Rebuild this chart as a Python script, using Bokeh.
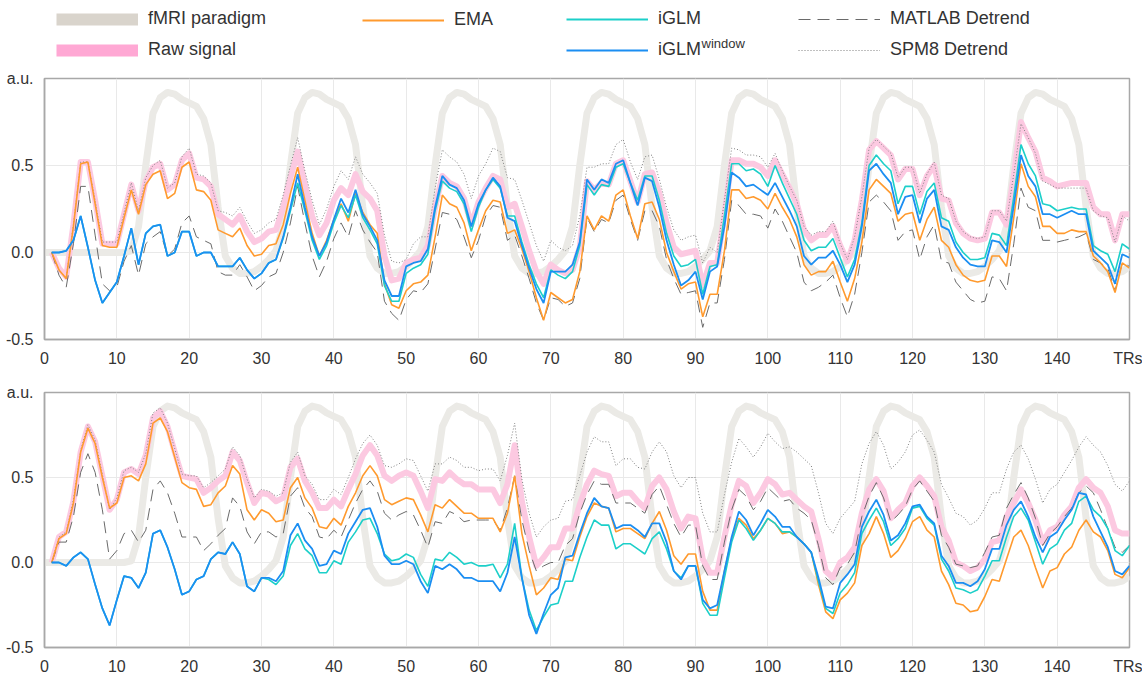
# -*- coding: utf-8 -*-

# Modules
from bokeh.plotting import figure
from bokeh.layouts import column
from bokeh.models import Range1d, FixedTicker, Legend, LegendItem, Label
from bokeh.embed import file_html
from bokeh.resources import INLINE


# Data (a.u. per TR)
trs = list(range(1, 151))
trs_paradigm = list(range(0, 151))

paradigm = [
    0.00, 0.00, 0.00, 0.00, 0.00, 0.00, 0.00, 0.00, 0.00, 0.00, 0.00, 0.00,
    0.01, 0.15, 0.50, 0.80, 0.89, 0.92, 0.91, 0.88, 0.86, 0.84,
    0.77, 0.62, 0.26, -0.02, -0.09, -0.12, -0.12, -0.11, -0.08, -0.04,
    0.01, 0.15, 0.50, 0.80, 0.89, 0.92, 0.91, 0.88, 0.86, 0.84,
    0.77, 0.62, 0.26, -0.02, -0.09, -0.12, -0.12, -0.11, -0.08, -0.04,
    0.01, 0.15, 0.50, 0.80, 0.89, 0.92, 0.91, 0.88, 0.86, 0.84,
    0.77, 0.62, 0.26, -0.02, -0.09, -0.12, -0.12, -0.11, -0.08, -0.04,
    0.01, 0.15, 0.50, 0.80, 0.89, 0.92, 0.91, 0.88, 0.86, 0.84,
    0.77, 0.62, 0.26, -0.02, -0.09, -0.12, -0.12, -0.11, -0.08, -0.04,
    0.01, 0.15, 0.50, 0.80, 0.89, 0.92, 0.91, 0.88, 0.86, 0.84,
    0.77, 0.62, 0.26, -0.02, -0.09, -0.12, -0.12, -0.11, -0.08, -0.04,
    0.01, 0.15, 0.50, 0.80, 0.89, 0.92, 0.91, 0.88, 0.86, 0.84,
    0.77, 0.62, 0.26, -0.02, -0.09, -0.12, -0.12, -0.11, -0.08, -0.04,
    0.01, 0.15, 0.50, 0.80, 0.89, 0.92, 0.91, 0.88, 0.86, 0.84,
    0.77, 0.62, 0.26, -0.02, -0.09, -0.12, -0.12, -0.11, -0.08,
]

# upper panel
top_raw = [
    0.00, -0.09, -0.14, 0.16, 0.52, 0.52, 0.30, 0.05, 0.05, 0.05,
    0.22, 0.39, 0.24, 0.41, 0.49, 0.51, 0.36, 0.39, 0.53, 0.57,
    0.43, 0.42, 0.38, 0.22, 0.19, 0.16, 0.21, 0.12, 0.06, 0.08,
    0.12, 0.13, 0.26, 0.43, 0.58, 0.39, 0.21, 0.10, 0.17, 0.30,
    0.37, 0.33, 0.45, 0.35, 0.31, 0.24, -0.02, -0.16, -0.15, -0.06,
    -0.04, -0.03, 0.04, 0.26, 0.44, 0.40, 0.38, 0.31, 0.16, 0.29,
    0.37, 0.44, 0.42, 0.26, 0.28, 0.15, 0.01, -0.11, -0.18, -0.07,
    -0.10, -0.12, -0.10, 0.03, 0.41, 0.36, 0.40, 0.39, 0.51, 0.53,
    0.41, 0.29, 0.45, 0.46, 0.34, 0.17, 0.03, -0.01, 0.00, 0.01,
    -0.19, -0.06, -0.06, 0.22, 0.53, 0.53, 0.51, 0.51, 0.49, 0.44,
    0.53, 0.45, 0.37, 0.28, 0.13, 0.07, 0.10, 0.10, 0.15, 0.04,
    -0.05, 0.07, 0.30, 0.59, 0.64, 0.60, 0.56, 0.42, 0.48, 0.48,
    0.33, 0.44, 0.50, 0.31, 0.30, 0.17, 0.11, 0.08, 0.07, 0.08,
    0.23, 0.23, 0.16, 0.44, 0.75, 0.66, 0.58, 0.43, 0.41, 0.38,
    0.39, 0.40, 0.40, 0.40, 0.26, 0.22, 0.22, 0.07, 0.22, 0.22,
]
top_ema = [
    0.00, -0.10, -0.15, 0.15, 0.51, 0.52, 0.28, 0.04, 0.03, 0.03,
    0.20, 0.36, 0.22, 0.39, 0.45, 0.47, 0.31, 0.34, 0.49, 0.52,
    0.36, 0.35, 0.30, 0.13, 0.11, 0.09, 0.14, 0.04, -0.02, -0.01,
    0.04, 0.05, 0.16, 0.34, 0.49, 0.30, 0.11, -0.02, 0.07, 0.19,
    0.28, 0.18, 0.34, 0.23, 0.16, 0.11, -0.18, -0.30, -0.32, -0.22,
    -0.18, -0.17, -0.13, 0.09, 0.33, 0.28, 0.26, 0.17, 0.01, 0.13,
    0.24, 0.30, 0.29, 0.11, 0.13, 0.02, -0.11, -0.26, -0.39, -0.23,
    -0.26, -0.29, -0.27, -0.11, 0.21, 0.13, 0.21, 0.18, 0.33, 0.36,
    0.21, 0.08, 0.28, 0.29, 0.19, 0.00, -0.11, -0.21, -0.18, -0.17,
    -0.37, -0.24, -0.24, 0.01, 0.36, 0.36, 0.31, 0.32, 0.30, 0.25,
    0.34, 0.26, 0.19, 0.09, -0.07, -0.13, -0.11, -0.11, -0.05, -0.17,
    -0.28, -0.15, 0.06, 0.36, 0.42, 0.38, 0.34, 0.18, 0.22, 0.23,
    0.07, 0.19, 0.26, 0.07, 0.03, -0.07, -0.13, -0.16, -0.17, -0.16,
    -0.02, -0.02, -0.08, 0.20, 0.51, 0.38, 0.32, 0.15, 0.15, 0.11,
    0.11, 0.13, 0.12, 0.12, -0.02, -0.06, -0.11, -0.23, -0.06, -0.09,
]
top_iglm = [
    0.00, 0.00, 0.01, 0.07, 0.21, 0.03, -0.16, -0.29, -0.23, -0.17,
    -0.02, 0.14, -0.07, 0.11, 0.15, 0.16, -0.02, 0.00, 0.12, 0.12,
    -0.02, 0.00, 0.00, -0.08, -0.08, -0.08, -0.03, -0.10, -0.15, -0.12,
    -0.06, -0.04, 0.08, 0.24, 0.40, 0.24, 0.07, -0.04, 0.04, 0.17,
    0.27, 0.20, 0.33, 0.20, 0.13, 0.05, -0.19, -0.28, -0.28, -0.12,
    -0.09, -0.07, -0.01, 0.24, 0.41, 0.37, 0.35, 0.28, 0.12, 0.26,
    0.36, 0.42, 0.37, 0.21, 0.21, 0.06, -0.07, -0.18, -0.26, -0.10,
    -0.13, -0.15, -0.11, 0.04, 0.39, 0.33, 0.39, 0.38, 0.49, 0.51,
    0.40, 0.30, 0.44, 0.44, 0.30, 0.11, -0.02, -0.08, -0.07, -0.04,
    -0.24, -0.08, -0.07, 0.21, 0.51, 0.51, 0.47, 0.48, 0.45, 0.38,
    0.50, 0.40, 0.31, 0.22, 0.07, 0.01, 0.03, 0.03, 0.08, -0.03,
    -0.14, -0.04, 0.17, 0.50, 0.56, 0.51, 0.47, 0.28, 0.38, 0.38,
    0.22, 0.35, 0.40, 0.20, 0.18, 0.06, 0.00, -0.04, -0.04, -0.03,
    0.11, 0.10, 0.04, 0.32, 0.62, 0.51, 0.44, 0.28, 0.27, 0.24,
    0.25, 0.26, 0.25, 0.25, 0.04, 0.01, -0.01, -0.11, 0.05, 0.02,
]
top_iglm_window = [
    0.00, 0.00, 0.01, 0.07, 0.21, 0.03, -0.16, -0.29, -0.23, -0.17,
    -0.02, 0.14, -0.07, 0.11, 0.15, 0.16, -0.02, 0.00, 0.12, 0.12,
    -0.02, 0.00, 0.00, -0.08, -0.08, -0.08, -0.03, -0.10, -0.15, -0.12,
    -0.06, -0.04, 0.09, 0.26, 0.45, 0.26, 0.09, -0.02, 0.06, 0.19,
    0.31, 0.23, 0.36, 0.22, 0.15, 0.07, -0.16, -0.25, -0.25, -0.08,
    -0.06, -0.05, 0.02, 0.26, 0.44, 0.39, 0.37, 0.30, 0.15, 0.28,
    0.36, 0.43, 0.38, 0.20, 0.18, 0.04, -0.09, -0.21, -0.29, -0.11,
    -0.11, -0.11, -0.07, 0.06, 0.42, 0.36, 0.42, 0.40, 0.51, 0.53,
    0.40, 0.27, 0.43, 0.41, 0.26, 0.07, -0.07, -0.19, -0.16, -0.11,
    -0.27, -0.11, -0.08, 0.15, 0.46, 0.43, 0.38, 0.39, 0.36, 0.33,
    0.40, 0.32, 0.24, 0.15, -0.02, -0.07, -0.03, -0.03, 0.01, -0.07,
    -0.17, -0.07, 0.15, 0.47, 0.51, 0.45, 0.40, 0.22, 0.32, 0.33,
    0.17, 0.31, 0.36, 0.15, 0.13, 0.03, -0.03, -0.07, -0.08, -0.08,
    0.07, 0.06, 0.00, 0.27, 0.56, 0.44, 0.38, 0.22, 0.22, 0.20,
    0.22, 0.24, 0.22, 0.22, 0.01, -0.03, -0.07, -0.18, -0.01, -0.03,
]
top_matlab = [
    0.00, -0.13, -0.20, 0.05, 0.38, 0.38, 0.10, -0.18, -0.22, -0.20,
    -0.05, 0.04, -0.13, 0.05, 0.09, 0.12, -0.02, 0.02, 0.17, 0.21,
    0.09, 0.07, 0.05, -0.11, -0.13, -0.13, -0.07, -0.14, -0.22, -0.19,
    -0.14, -0.12, 0.00, 0.17, 0.38, 0.17, -0.02, -0.14, -0.05, 0.08,
    0.17, 0.09, 0.24, 0.13, 0.06, 0.00, -0.28, -0.35, -0.39, -0.27,
    -0.22, -0.23, -0.18, 0.02, 0.23, 0.22, 0.19, 0.09, -0.03, 0.07,
    0.21, 0.27, 0.26, 0.07, 0.10, -0.02, -0.15, -0.29, -0.39, -0.26,
    -0.27, -0.31, -0.29, -0.15, 0.20, 0.12, 0.19, 0.17, 0.30, 0.33,
    0.19, 0.07, 0.24, 0.24, 0.15, -0.04, -0.15, -0.24, -0.23, -0.22,
    -0.43, -0.29, -0.29, -0.04, 0.30, 0.27, 0.22, 0.22, 0.21, 0.14,
    0.25, 0.18, 0.09, 0.00, -0.17, -0.22, -0.20, -0.17, -0.13, -0.26,
    -0.37, -0.24, 0.00, 0.29, 0.33, 0.29, 0.24, 0.07, 0.12, 0.13,
    -0.04, 0.09, 0.16, -0.05, -0.06, -0.17, -0.22, -0.27, -0.29, -0.28,
    -0.14, -0.15, -0.22, 0.05, 0.37, 0.26, 0.24, 0.07, 0.07, 0.06,
    0.07, 0.08, 0.09, 0.11, -0.04, -0.06, -0.09, -0.22, -0.06, -0.08,
]
top_spm8 = [
    0.00, -0.10, -0.15, 0.16, 0.52, 0.52, 0.30, 0.06, 0.06, 0.06,
    0.23, 0.40, 0.24, 0.43, 0.50, 0.53, 0.37, 0.40, 0.55, 0.60,
    0.45, 0.44, 0.40, 0.24, 0.23, 0.21, 0.26, 0.18, 0.11, 0.13,
    0.17, 0.19, 0.33, 0.50, 0.66, 0.47, 0.30, 0.16, 0.25, 0.38,
    0.47, 0.42, 0.55, 0.45, 0.40, 0.34, 0.10, -0.05, -0.06, -0.04,
    0.05, 0.09, 0.09, 0.37, 0.59, 0.55, 0.52, 0.45, 0.31, 0.44,
    0.51, 0.60, 0.58, 0.43, 0.42, 0.30, 0.17, 0.04, -0.05, 0.07,
    0.03, 0.01, 0.04, 0.21, 0.49, 0.49, 0.51, 0.51, 0.62, 0.65,
    0.52, 0.42, 0.55, 0.56, 0.42, 0.26, 0.13, 0.07, 0.09, 0.10,
    -0.06, 0.03, 0.00, 0.30, 0.60, 0.59, 0.56, 0.56, 0.55, 0.49,
    0.57, 0.47, 0.38, 0.30, 0.15, 0.10, 0.12, 0.12, 0.18, 0.05,
    -0.04, 0.09, 0.32, 0.60, 0.65, 0.61, 0.57, 0.43, 0.49, 0.49,
    0.34, 0.45, 0.52, 0.33, 0.31, 0.18, 0.12, 0.09, 0.08, 0.09,
    0.24, 0.24, 0.18, 0.45, 0.74, 0.66, 0.57, 0.41, 0.39, 0.37,
    0.37, 0.37, 0.37, 0.37, 0.24, 0.21, 0.20, 0.06, 0.21, 0.18,
]

# lower panel
bot_raw = [
    0.00, 0.15, 0.18, 0.36, 0.65, 0.80, 0.71, 0.51, 0.31, 0.37,
    0.53, 0.55, 0.52, 0.63, 0.85, 0.89, 0.80, 0.65, 0.51, 0.50,
    0.49, 0.41, 0.44, 0.48, 0.51, 0.65, 0.60, 0.47, 0.35, 0.41,
    0.40, 0.36, 0.38, 0.56, 0.61, 0.48, 0.41, 0.32, 0.32, 0.37,
    0.33, 0.43, 0.52, 0.63, 0.69, 0.63, 0.51, 0.48, 0.51, 0.53,
    0.51, 0.42, 0.32, 0.49, 0.48, 0.53, 0.49, 0.46, 0.46, 0.43,
    0.43, 0.43, 0.35, 0.46, 0.69, 0.36, 0.15, -0.02, 0.03, 0.09,
    0.09, 0.20, 0.20, 0.34, 0.46, 0.54, 0.52, 0.51, 0.39, 0.41,
    0.41, 0.36, 0.32, 0.45, 0.50, 0.43, 0.30, 0.20, 0.27, 0.26,
    0.02, -0.06, -0.06, 0.15, 0.34, 0.48, 0.45, 0.35, 0.41, 0.49,
    0.46, 0.40, 0.41, 0.37, 0.33, 0.30, 0.14, -0.05, -0.09, 0.00,
    0.03, 0.09, 0.29, 0.43, 0.49, 0.42, 0.26, 0.31, 0.35, 0.45,
    0.50, 0.45, 0.39, 0.21, 0.13, 0.00, -0.02, -0.05, -0.03, 0.02,
    0.12, 0.13, 0.27, 0.35, 0.43, 0.35, 0.25, 0.12, 0.19, 0.21,
    0.28, 0.33, 0.44, 0.49, 0.44, 0.41, 0.33, 0.19, 0.17, 0.17,
]
bot_ema = [
    0.00, 0.14, 0.17, 0.35, 0.65, 0.79, 0.70, 0.50, 0.32, 0.35,
    0.50, 0.51, 0.48, 0.58, 0.82, 0.85, 0.77, 0.62, 0.47, 0.44,
    0.43, 0.33, 0.34, 0.41, 0.45, 0.57, 0.52, 0.31, 0.25, 0.31,
    0.29, 0.24, 0.25, 0.44, 0.50, 0.38, 0.32, 0.21, 0.20, 0.26,
    0.22, 0.33, 0.41, 0.51, 0.57, 0.51, 0.37, 0.34, 0.36, 0.38,
    0.37, 0.28, 0.18, 0.34, 0.32, 0.37, 0.33, 0.29, 0.29, 0.26,
    0.26, 0.26, 0.18, 0.29, 0.51, 0.17, -0.02, -0.19, -0.15, -0.09,
    -0.10, 0.02, 0.01, 0.15, 0.27, 0.35, 0.33, 0.32, 0.18, 0.20,
    0.20, 0.17, 0.14, 0.23, 0.30, 0.19, 0.04, -0.01, 0.05, 0.05,
    -0.17, -0.28, -0.28, -0.05, 0.14, 0.26, 0.22, 0.14, 0.19, 0.26,
    0.23, 0.17, 0.18, 0.15, 0.11, 0.06, -0.13, -0.29, -0.33, -0.22,
    -0.18, -0.12, 0.10, 0.17, 0.27, 0.17, 0.03, 0.07, 0.14, 0.24,
    0.27, 0.19, 0.15, -0.05, -0.13, -0.24, -0.25, -0.29, -0.28, -0.20,
    -0.10, -0.11, 0.02, 0.15, 0.19, 0.10, -0.03, -0.15, -0.05, -0.03,
    0.05, 0.09, 0.19, 0.25, 0.18, 0.15, 0.07, -0.07, -0.09, -0.03,
]
bot_iglm = [
    0.00, 0.00, -0.02, 0.03, 0.06, 0.02, -0.13, -0.27, -0.37, -0.22,
    -0.08, -0.09, -0.15, -0.06, 0.17, 0.19, 0.09, -0.04, -0.19, -0.17,
    -0.10, -0.08, 0.02, 0.06, 0.05, 0.12, 0.05, -0.14, -0.17, -0.09,
    -0.10, -0.13, -0.08, 0.10, 0.17, 0.08, 0.04, -0.06, -0.06, 0.01,
    -0.01, 0.12, 0.18, 0.25, 0.26, 0.17, 0.05, 0.01, 0.02, 0.05,
    0.03, -0.07, -0.14, 0.02, 0.01, 0.06, 0.03, -0.01, 0.00, -0.02,
    -0.02, -0.01, -0.09, -0.01, 0.23, -0.09, -0.28, -0.40, -0.32, -0.25,
    -0.24, -0.11, -0.11, 0.03, 0.15, 0.25, 0.22, 0.22, 0.08, 0.11,
    0.11, 0.08, 0.05, 0.14, 0.18, 0.08, -0.05, -0.09, -0.02, -0.02,
    -0.24, -0.31, -0.31, -0.09, 0.12, 0.25, 0.20, 0.13, 0.19, 0.26,
    0.23, 0.18, 0.18, 0.15, 0.11, 0.06, -0.11, -0.27, -0.30, -0.18,
    -0.13, -0.06, 0.17, 0.25, 0.32, 0.24, 0.10, 0.14, 0.20, 0.32,
    0.33, 0.26, 0.22, 0.02, -0.05, -0.15, -0.16, -0.18, -0.16, -0.08,
    0.01, 0.01, 0.15, 0.27, 0.32, 0.25, 0.12, -0.01, 0.08, 0.11,
    0.19, 0.23, 0.36, 0.39, 0.31, 0.27, 0.20, 0.07, 0.04, 0.10,
]
bot_iglm_window = [
    0.00, 0.00, -0.02, 0.03, 0.06, 0.02, -0.13, -0.27, -0.37, -0.22,
    -0.08, -0.09, -0.15, -0.06, 0.17, 0.19, 0.09, -0.04, -0.19, -0.17,
    -0.10, -0.08, 0.02, 0.06, 0.05, 0.12, 0.05, -0.14, -0.17, -0.09,
    -0.09, -0.11, -0.05, 0.16, 0.23, 0.13, 0.08, -0.02, -0.01, 0.07,
    0.05, 0.17, 0.24, 0.31, 0.32, 0.21, 0.04, -0.01, -0.01, 0.01,
    -0.01, -0.11, -0.18, -0.02, -0.04, -0.01, -0.04, -0.09, -0.09, -0.11,
    -0.11, -0.11, -0.17, -0.06, 0.15, -0.09, -0.31, -0.42, -0.30, -0.19,
    -0.15, 0.03, 0.04, 0.17, 0.29, 0.38, 0.33, 0.32, 0.20, 0.22,
    0.22, 0.19, 0.15, 0.23, 0.23, 0.12, -0.05, -0.10, -0.02, -0.02,
    -0.22, -0.27, -0.25, -0.05, 0.15, 0.30, 0.25, 0.16, 0.23, 0.31,
    0.27, 0.21, 0.21, 0.15, 0.11, 0.06, -0.09, -0.26, -0.27, -0.12,
    -0.07, -0.01, 0.21, 0.30, 0.37, 0.28, 0.13, 0.16, 0.23, 0.33,
    0.34, 0.27, 0.23, 0.04, -0.02, -0.12, -0.12, -0.14, -0.11, -0.04,
    0.08, 0.08, 0.22, 0.31, 0.36, 0.27, 0.15, 0.06, 0.15, 0.18,
    0.25, 0.31, 0.41, 0.40, 0.27, 0.18, 0.09, -0.05, -0.07, -0.02,
]
bot_matlab = [
    0.00, 0.12, 0.12, 0.27, 0.53, 0.64, 0.53, 0.31, 0.02, 0.07,
    0.17, 0.19, 0.12, 0.19, 0.43, 0.48, 0.41, 0.29, 0.15, 0.15,
    0.15, 0.07, 0.11, 0.16, 0.20, 0.38, 0.33, 0.18, 0.11, 0.18,
    0.18, 0.15, 0.17, 0.39, 0.44, 0.32, 0.27, 0.15, 0.14, 0.19,
    0.15, 0.25, 0.35, 0.43, 0.48, 0.42, 0.29, 0.25, 0.28, 0.30,
    0.28, 0.19, 0.09, 0.24, 0.23, 0.30, 0.28, 0.24, 0.25, 0.25,
    0.25, 0.25, 0.19, 0.32, 0.51, 0.25, 0.07, -0.05, -0.02, 0.00,
    0.00, 0.10, 0.14, 0.29, 0.40, 0.48, 0.46, 0.46, 0.35, 0.35,
    0.35, 0.32, 0.29, 0.40, 0.45, 0.34, 0.23, 0.15, 0.22, 0.22,
    -0.02, -0.10, -0.10, 0.12, 0.31, 0.43, 0.39, 0.31, 0.36, 0.44,
    0.40, 0.36, 0.37, 0.32, 0.29, 0.25, 0.10, -0.09, -0.13, -0.03,
    -0.01, 0.06, 0.27, 0.39, 0.47, 0.38, 0.24, 0.28, 0.33, 0.43,
    0.48, 0.42, 0.36, 0.16, 0.09, -0.01, -0.02, -0.03, -0.02, 0.06,
    0.15, 0.16, 0.32, 0.40, 0.47, 0.38, 0.26, 0.10, 0.17, 0.21,
    0.27, 0.32, 0.41, 0.45, 0.41, 0.31, 0.20, 0.09, 0.06, 0.10,
]
bot_spm8 = [
    0.00, 0.15, 0.18, 0.37, 0.66, 0.81, 0.72, 0.52, 0.31, 0.38,
    0.54, 0.56, 0.53, 0.64, 0.88, 0.91, 0.82, 0.67, 0.52, 0.51,
    0.51, 0.44, 0.47, 0.51, 0.55, 0.68, 0.63, 0.49, 0.38, 0.43,
    0.42, 0.39, 0.41, 0.59, 0.65, 0.51, 0.46, 0.37, 0.37, 0.43,
    0.40, 0.50, 0.61, 0.70, 0.75, 0.69, 0.57, 0.56, 0.58, 0.61,
    0.60, 0.51, 0.42, 0.58, 0.58, 0.62, 0.60, 0.56, 0.56, 0.54,
    0.55, 0.55, 0.48, 0.63, 0.82, 0.49, 0.29, 0.15, 0.21, 0.25,
    0.26, 0.36, 0.37, 0.51, 0.65, 0.74, 0.71, 0.71, 0.57, 0.61,
    0.61, 0.56, 0.55, 0.65, 0.71, 0.65, 0.51, 0.44, 0.50, 0.50,
    0.29, 0.18, 0.18, 0.40, 0.59, 0.73, 0.68, 0.62, 0.68, 0.76,
    0.71, 0.67, 0.68, 0.65, 0.61, 0.57, 0.41, 0.23, 0.17, 0.26,
    0.31, 0.36, 0.58, 0.70, 0.77, 0.69, 0.55, 0.59, 0.65, 0.75,
    0.78, 0.72, 0.65, 0.46, 0.38, 0.29, 0.27, 0.22, 0.25, 0.32,
    0.41, 0.41, 0.55, 0.65, 0.69, 0.61, 0.49, 0.35, 0.43, 0.46,
    0.53, 0.60, 0.68, 0.74, 0.69, 0.65, 0.57, 0.46, 0.42, 0.48,
]

x_ticks = list(range(0, 151, 10))
y_ticks = [-0.5, 0.0, 0.5, 1.0]


# Style
FONT = "Liberation Sans"
TEXT_COLOR = "#333333"
FRAME_COLOR = "#a8a8a8"
C_PARADIGM = "#ebeae6"
C_PARADIGM_KEY = "#d9d4cc"
C_RAW = "#fcc9e1"
C_RAW_KEY = "#ffa8d4"
C_EMA = "#ff9a2e"
C_IGLM = "#1ccfc9"
C_IGLMW = "#1b8ef2"
C_MATLAB = "#6a6a6a"
C_SPM8 = "#808080"
DASH_MATLAB = "12 7"
DASH_SPM8 = "1 2"
W = 1142
BORDER_L = 44
BORDER_R = 13


def make_panel(height, border_top, border_bottom, raw, ema, iglm, iglmw, matlab, spm8):
    p = figure(width=W, height=height, x_range=Range1d(0, 150), y_range=Range1d(-0.5, 1.0),
               tools="", toolbar_location=None, output_backend="svg")
    p.min_border_left = BORDER_L
    p.min_border_right = BORDER_R
    p.min_border_top = border_top
    p.min_border_bottom = border_bottom
    p.outline_line_color = FRAME_COLOR
    p.outline_line_width = 1.5

    # back to front
    p.line(trs_paradigm, paradigm, line_color=C_PARADIGM, line_width=7, line_join="round")
    p.line(trs, raw, line_color=C_RAW, line_width=6, line_join="round")
    p.line(trs, spm8, line_color=C_SPM8, line_width=1, line_dash=DASH_SPM8)
    p.line(trs, matlab, line_color=C_MATLAB, line_width=1, line_dash=DASH_MATLAB)
    p.line(trs, ema, line_color=C_EMA, line_width=1.6)
    p.line(trs, iglm, line_color=C_IGLM, line_width=1.6)
    p.line(trs, iglmw, line_color=C_IGLMW, line_width=1.8)

    p.xaxis.ticker = FixedTicker(ticks=x_ticks)
    p.xaxis.major_label_overrides = {150: "TRs"}
    p.yaxis.ticker = FixedTicker(ticks=y_ticks)
    p.yaxis.major_label_overrides = {-0.5: "-0.5", 0: "0.0", 0.5: "0.5", 1: "a.u."}
    p.xgrid.ticker = FixedTicker(ticks=x_ticks)
    p.ygrid.ticker = FixedTicker(ticks=y_ticks)
    p.grid.grid_line_color = "#e9e9e9"
    p.grid.grid_line_width = 1

    p.axis.axis_line_color = FRAME_COLOR
    p.axis.axis_line_width = 1.5
    p.axis.major_tick_line_color = None
    p.axis.minor_tick_line_color = None
    p.axis.major_label_text_font = FONT
    p.axis.major_label_text_font_size = "16px"
    p.axis.major_label_text_color = TEXT_COLOR
    p.xaxis.major_label_standoff = 4
    p.yaxis.major_label_standoff = 5
    return p


# Legend strip on top (its range sits away from the data, only the keys show)
lf = figure(width=W, height=68, x_range=Range1d(-20, -10), y_range=Range1d(-20, -10),
            x_axis_type=None, y_axis_type=None, tools="", toolbar_location=None,
            output_backend="svg")
lf.min_border = 0
lf.min_border_left = BORDER_L
lf.min_border_right = BORDER_R
lf.outline_line_color = None

k_par = lf.line(trs_paradigm, paradigm, line_color=C_PARADIGM_KEY, line_width=12)
k_raw = lf.line(trs, top_raw, line_color=C_RAW_KEY, line_width=12)
k_ema = lf.line(trs, top_ema, line_color=C_EMA, line_width=2)
k_iglm = lf.line(trs, top_iglm, line_color=C_IGLM, line_width=2)
k_iglmw = lf.line(trs, top_iglm_window, line_color=C_IGLMW, line_width=2)
k_matlab = lf.line(trs, top_matlab, line_color=C_MATLAB, line_width=1, line_dash=DASH_MATLAB)
k_spm8 = lf.line(trs, top_spm8, line_color=C_SPM8, line_width=1, line_dash=DASH_SPM8)

legend_cols = [
    ([("fMRI paradigm", k_par), ("Raw signal", k_raw)], (12, 8)),
    ([("EMA", k_ema)], (318, 38)),
    ([("iGLM", k_iglm), ("iGLM", k_iglmw)], (522, 8)),
    ([("MATLAB Detrend", k_matlab), ("SPM8 Detrend", k_spm8)], (754, 8)),
]
for entries, loc in legend_cols:
    leg = Legend(items=[LegendItem(label=t, renderers=[r]) for t, r in entries], location=loc)
    leg.orientation = "vertical"
    leg.padding = 0
    leg.margin = 0
    leg.spacing = 10
    leg.border_line_color = None
    leg.background_fill_alpha = 0
    leg.glyph_width = 82
    leg.glyph_height = 20
    leg.label_height = 20
    leg.label_standoff = 10
    leg.label_text_font = FONT
    leg.label_text_font_size = "18px"
    leg.label_text_color = TEXT_COLOR
    lf.add_layout(leg)

# superscript of iGLM window
lf.add_layout(Label(x=657, y=25, x_units="screen", y_units="screen", text="window",
                    text_font=FONT, text_font_size="13px", text_color=TEXT_COLOR,
                    text_baseline="middle", text_align="left"))


# Panels
p_top = make_panel(301, 10, 24, top_raw, top_ema, top_iglm, top_iglm_window, top_matlab, top_spm8)
p_bot = make_panel(308, 23, 20, bot_raw, bot_ema, bot_iglm, bot_iglm_window, bot_matlab, bot_spm8)

layout = column(lf, p_top, p_bot, spacing=0)
open("out.html", "w").write(file_html(layout, INLINE, "iGLM comparison"))
